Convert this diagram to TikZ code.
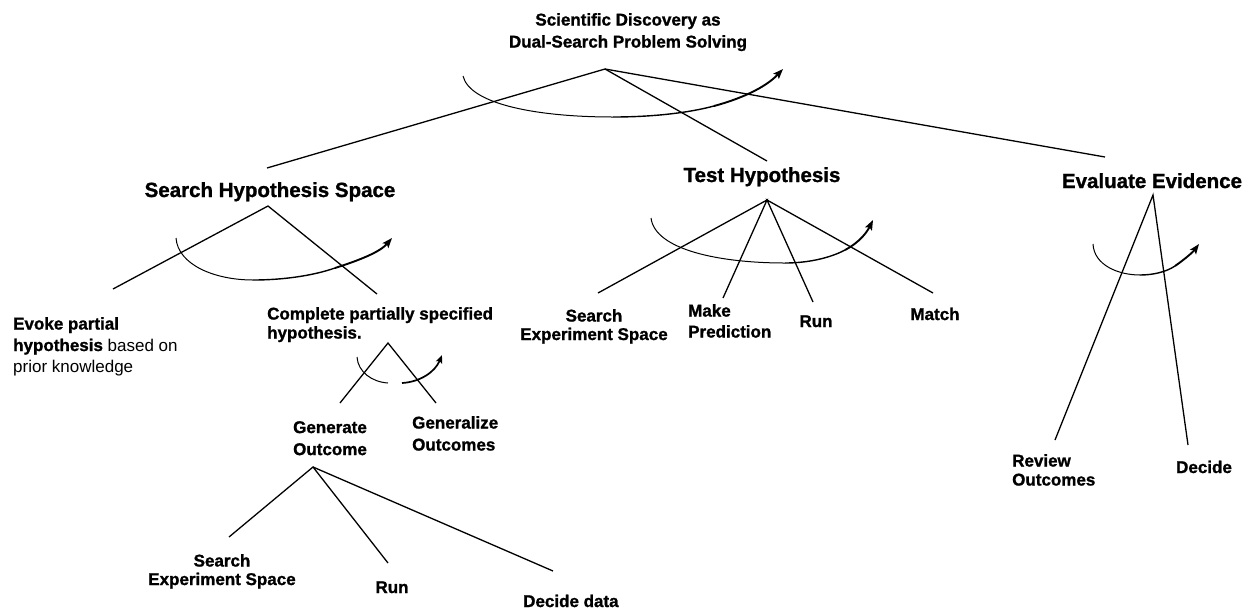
\documentclass[tikz,border=0pt]{standalone}
\usepackage{fontspec}
\setmainfont{Liberation Sans}[BoldFeatures={FakeBold=1.2}]
\usetikzlibrary{arrows.meta}
\begin{document}
\begin{tikzpicture}[x=1pt,y=-1pt,
  lbl/.style={inner sep=0pt, font=\bfseries\fontsize{17}{18.5}\selectfont},
  head/.style={inner sep=0pt, font=\bfseries\fontsize{20.5}{24}\selectfont},
  edge/.style={line width=1.3pt},
  cycthin/.style={line width=1pt},
  cycmid/.style={line width=1.4pt},
  cycthick/.style={line width=1.9pt, -{Stealth[length=10pt,width=7.5pt,inset=2pt]}}]
\useasboundingbox[fill=white] (0,0) rectangle (1257,611);

% title
\node[inner sep=0pt, anchor=north, align=center,
      font=\bfseries\fontsize{17}{22}\selectfont] (title) at (628,13)
  {Scientific Discovery as\\Dual-Search Problem Solving};

% level 1
\node[head, anchor=base] (shs) at (270,197) {Search Hypothesis Space};
\node[head, anchor=base] (th)  at (762,182) {Test Hypothesis};
\node[head, anchor=base] (ee)  at (1152,188) {Evaluate Evidence};

% children of Search Hypothesis Space
\node[lbl, anchor=north west, align=left, font=\bfseries\fontsize{17}{21.5}\selectfont] (evoke) at (13,317)
  {Evoke partial\\hypothesis\mdseries{} based on\\\mdseries prior knowledge};
\node[lbl, anchor=north west, align=left, font=\bfseries\fontsize{17}{19}\selectfont] (cps) at (267,307)
  {Complete partially specified\\hypothesis.};

% children of Test Hypothesis
\node[lbl, anchor=north, align=center] (tses) at (594,309) {Search\\Experiment Space};
\node[lbl, anchor=north west, align=left, font=\bfseries\fontsize{17}{21}\selectfont] (mp) at (688,304) {Make\\Prediction};
\node[lbl, anchor=base] (trun) at (816,327) {Run};
\node[lbl, anchor=base] (match) at (935,320) {Match};

% children of Evaluate Evidence
\node[lbl, anchor=north west, align=left, font=\bfseries\fontsize{17}{19}\selectfont] (ro) at (1012,454) {Review\\Outcomes};
\node[lbl, anchor=base] (decide) at (1204,473) {Decide};

% children of Complete partially specified hypothesis
\node[lbl, anchor=north, align=center, font=\bfseries\fontsize{17}{22}\selectfont] (go) at (330,421) {Generate\\Outcome};
\node[lbl, anchor=north west, align=left, font=\bfseries\fontsize{17}{22}\selectfont] (gzo) at (412,416) {Generalize\\Outcomes};

% children of Generate Outcome
\node[lbl, anchor=north, align=center] (gses) at (222,554) {Search\\Experiment Space};
\node[lbl, anchor=base] (grun) at (392,593) {Run};
\node[lbl, anchor=base west] (dd) at (523,607) {Decide data};

% apex and end coordinates
\coordinate (rootA) at (605,69);
\coordinate (rootE1) at (267,168);
\coordinate (rootE2) at (767,161);
\coordinate (rootE3) at (1105,157);

\coordinate (shsA) at (268,206);
\coordinate (shsE1) at (113,289);
\coordinate (shsE2) at (377,294);

\coordinate (thA) at (767,200);
\coordinate (thE1) at (598,293);
\coordinate (thE2) at (723,298);
\coordinate (thE3) at (813,302);
\coordinate (thE4) at (933,293);

\coordinate (eeA) at (1153,195);
\coordinate (eeE1) at (1055,440);
\coordinate (eeE2) at (1188,445);

\coordinate (cpsA) at (388,343);
\coordinate (cpsE1) at (340,403);
\coordinate (cpsE2) at (436,403);

\coordinate (goA) at (313,467);
\coordinate (goE1) at (229,537);
\coordinate (goE2) at (388,563);
\coordinate (goE3) at (553,571);

% tree lines
\draw[edge] (rootE1) -- (rootA) -- (rootE2);
\draw[edge] (rootA) -- (rootE3);
\draw[edge] (shsE1) -- (shsA) -- (shsE2);
\draw[edge] (thE1) -- (thA) -- (thE2);
\draw[edge] (thE3) -- (thA) -- (thE4);
\draw[edge] (eeE1) -- (eeA) -- (eeE2);
\draw[edge] (cpsE1) -- (cpsA) -- (cpsE2);
\draw[edge] (goE1) -- (goA) -- (goE2);
\draw[edge] (goA) -- (goE3);

% cycle arcs
\draw[cycthin] (463,76) .. controls (470,105) and (540,117) .. (613,117);
\draw[cycmid] (613,117) .. controls (652,117) and (688,113) .. (714,106);
\draw[cycthick] (714,106) .. controls (740,99) and (765,88) .. (783,69);

\draw[cycthin] (176,238) .. controls (178,265) and (215,280) .. (253,280);
\draw[cycmid] (253,280) .. controls (282,280) and (312,276) .. (335,268);
\draw[cycthick] (335,268) .. controls (360,260) and (380,252) .. (392,238);

\draw[cycthin] (651,218) .. controls (655,250) and (720,263) .. (785,263);
\draw[cycmid] (785,263) .. controls (808,263) and (830,258) .. (845,250);
\draw[cycthick] (845,250) .. controls (860,242) and (867,232) .. (873,220);

\draw[cycthin] (1093,244) .. controls (1094,265) and (1118,275) .. (1140,275);
\draw[cycmid] (1140,275) .. controls (1153,275) and (1166,272) .. (1175,266);
\draw[cycthick] (1175,266) .. controls (1185,259) and (1193,252) .. (1199,244);

\draw[cycthin] (357,357) .. controls (358,372) and (372,382) .. (388,383);
\draw[line width=1.7pt, -{Stealth[length=8pt,width=6.5pt,inset=1.5pt]}] (402,383) .. controls (420,382) and (435,372) .. (442,355);
\end{tikzpicture}
\end{document}
